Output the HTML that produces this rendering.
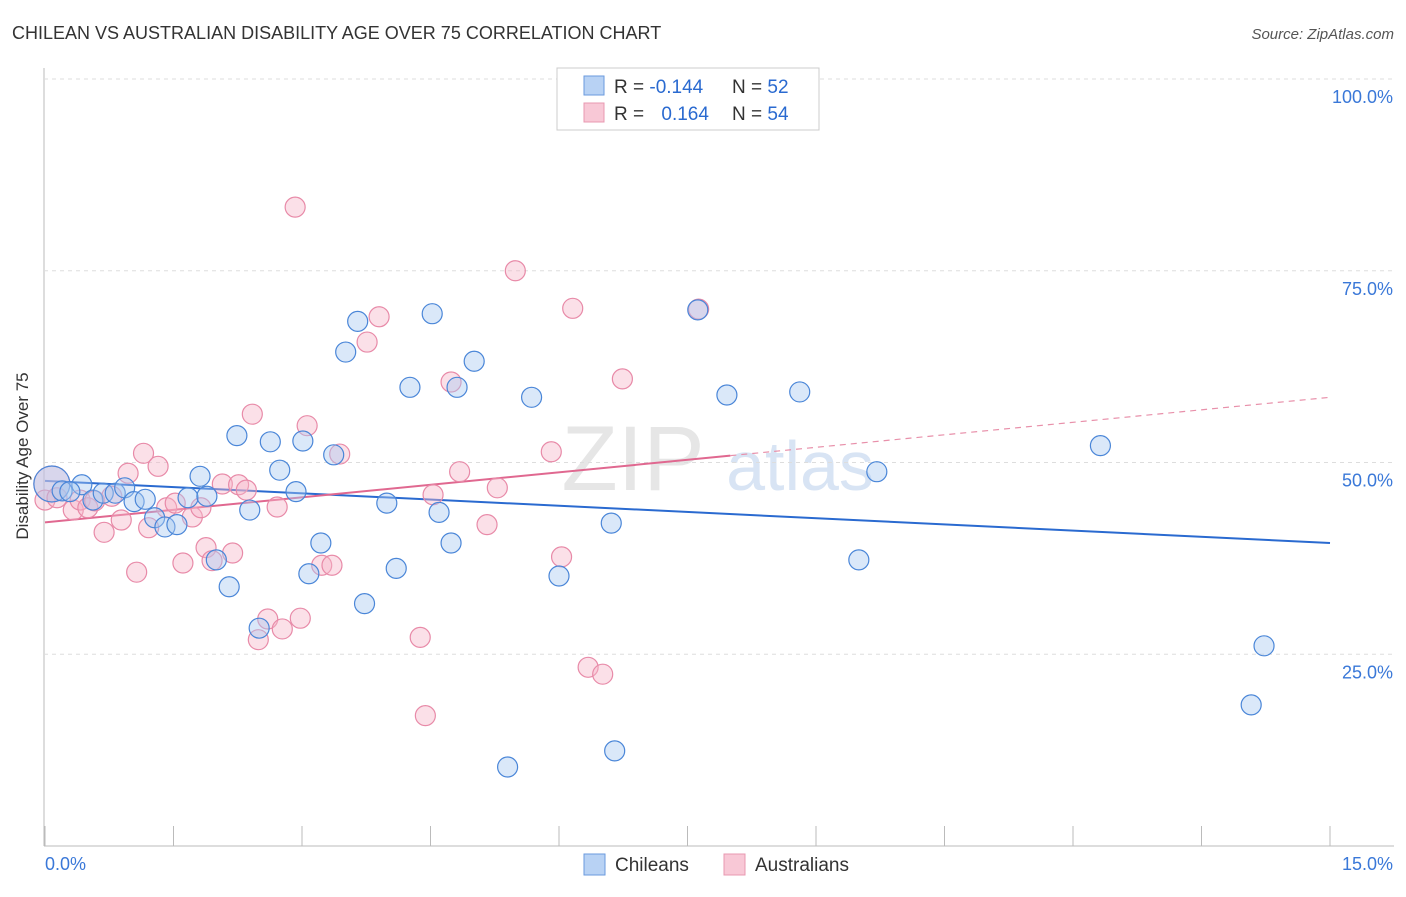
<!DOCTYPE html>
<html><head><meta charset="utf-8"><style>
body{margin:0;background:#fff;font-family:"Liberation Sans",sans-serif;}
svg text{font-family:"Liberation Sans",sans-serif;}
</style></head><body>
<svg id="c" width="1406" height="892" xmlns="http://www.w3.org/2000/svg">
<text x="12" y="39" font-size="18" fill="#333">CHILEAN VS AUSTRALIAN DISABILITY AGE OVER 75 CORRELATION CHART</text>
<text x="1394" y="39" font-size="15" fill="#555" text-anchor="end" font-style="italic">Source: ZipAtlas.com</text>
<text x="633" y="490" font-size="92" fill="#e6e6e6" font-family="Liberation Serif" text-anchor="middle">ZIP</text>
<text x="800" y="490" font-size="70" fill="#d8e4f4" text-anchor="middle">atlas</text>
<text transform="translate(28,456) rotate(-90)" font-size="17" fill="#333" text-anchor="middle">Disability Age Over 75</text>
<g id="grid"></g><g id="lines"></g><g id="pts"></g>
<g>
<rect x="557" y="68" width="262" height="62" fill="#fff" stroke="#ccc"/>
<rect x="584" y="76" width="20" height="19" fill="#b8d2f4" stroke="#6a9ade"/>
<rect x="584" y="103" width="20" height="19" fill="#f8c8d6" stroke="#e898b0"/>
<text x="614" y="93" font-size="19" fill="#333">R = <tspan fill="#2a6ad0">-0.144</tspan></text>
<text x="732" y="93" font-size="19" fill="#333">N = <tspan fill="#2a6ad0">52</tspan></text>
<text x="614" y="120" font-size="19" fill="#333">R = <tspan fill="#2a6ad0" dx="12">0.164</tspan></text>
<text x="732" y="120" font-size="19" fill="#333">N = <tspan fill="#2a6ad0">54</tspan></text>
</g>
<g>
<rect x="584" y="854" width="21" height="21" fill="#b8d2f4" stroke="#6a9ade"/>
<text x="615" y="871" font-size="19" fill="#333">Chileans</text>
<rect x="724" y="854" width="21" height="21" fill="#f8c8d6" stroke="#e898b0"/>
<text x="755" y="871" font-size="19" fill="#333">Australians</text>
</g>
</svg>
<script>
const chileX=[0.08,0.2,0.43,0.29,0.56,0.68,0.82,0.93,1.04,1.17,1.28,1.4,1.54,1.67,1.81,1.89,2.0,2.15,2.24,2.39,2.5,2.63,2.74,2.93,3.01,3.08,3.22,3.37,3.51,3.65,3.73,3.99,4.1,4.26,4.52,4.6,4.74,4.81,5.01,5.4,5.68,6.0,6.61,6.65,7.62,7.96,8.81,9.5,9.71,12.32,14.08,14.23];
const chileY=[47.2,46.3,47.1,46.2,45.1,46.0,46.0,46.7,44.9,45.2,42.8,41.6,41.9,45.4,48.2,45.6,37.3,33.8,53.5,43.8,28.4,52.7,49.0,46.2,52.8,35.5,39.5,51.0,64.4,68.4,31.6,44.7,36.2,59.8,69.4,43.5,39.5,59.8,63.2,10.3,58.5,35.2,42.1,12.4,69.9,58.8,59.2,37.3,48.8,52.2,18.4,26.1];
const ausX=[0.08,0.0,0.14,0.33,0.41,0.5,0.58,0.69,0.78,0.89,0.97,1.07,1.15,1.21,1.32,1.42,1.52,1.61,1.72,1.82,1.88,1.95,2.07,2.19,2.26,2.35,2.42,2.49,2.6,2.71,2.77,2.92,2.98,3.06,3.23,3.35,3.44,3.76,3.9,4.38,4.44,4.53,4.74,4.84,5.16,5.28,5.49,5.91,6.03,6.16,6.34,6.51,6.74,7.63];
const ausY=[47.2,45.1,45.4,43.8,45.1,44.1,45.0,40.9,45.6,42.5,48.6,35.7,51.2,41.5,49.5,44.1,44.7,36.9,42.9,44.1,38.9,37.2,47.2,38.2,47.1,46.4,56.3,26.9,29.6,44.2,28.3,83.3,29.7,54.8,36.6,36.6,51.1,65.7,69.0,27.2,17.0,45.8,60.5,48.8,41.9,46.7,75.0,51.4,37.7,70.1,23.3,22.4,60.9,70.0];
const chileTrend=[47.6,39.5];
const ausTrend=[42.2,58.5];
const ausSolidEnd=8.0;
const yTicks=[25,50,75,100];
const xTickLabels=["0.0%","15.0%"];
const NS="http://www.w3.org/2000/svg";
const X=v=>45+v/15*1285, Y=v=>846-v/100*767;
function mk(p,t,a){const e=document.createElementNS(NS,t);for(const k in a)e.setAttribute(k,a[k]);document.getElementById(p).appendChild(e);return e;}
let e;
e=mk('grid','line',{x1:44,y1:68,x2:44,y2:846,stroke:'#bbb'});


e=mk('grid','line',{x1:44,y1:846,x2:1394,y2:846,stroke:'#bbb'});


for(const t of yTicks){
 e=mk('grid','line',{x1:44,x2:1394,y1:Y(t),y2:Y(t),stroke:'#ddd','stroke-dasharray':'4,4'});
 
 
 e=mk('grid','text',{x:1393,y:Y(t)+24,'font-size':18,fill:'#3a78d8','text-anchor':'end'});
 e.textContent=t.toFixed(1)+'%';
 
 
}
for(let i=0;i<=10;i++){
 e=mk('grid','line',{x1:X(i*1.5),x2:X(i*1.5),y1:826,y2:846,stroke:'#bbb'});
 
 
}
e=mk('grid','text',{x:45,y:870,'font-size':18,fill:'#3a78d8'});e.textContent=xTickLabels[0];


e=mk('grid','text',{x:1393,y:870,'font-size':18,fill:'#3a78d8','text-anchor':'end'});e.textContent=xTickLabels[1];


function pts(xs,ys,fill,stroke,name){
 xs.forEach((x,i)=>{
  const r=i===0?18:10;
  e=mk('pts','circle',{cx:X(x),cy:Y(ys[i]),r:r,fill:fill,'fill-opacity':0.42,stroke:stroke,'stroke-width':1.2});
  
  
 });
}
pts(ausX,ausY,'#f5b4c8','#e88aa8','australians');
pts(chileX,chileY,'#a8c8f0','#4a86d8','chileans');
e=mk('lines','line',{x1:X(0),y1:Y(chileTrend[0]),x2:X(15),y2:Y(chileTrend[1]),stroke:'#2a6ad0','stroke-width':2});


const ay=x=>ausTrend[0]+(ausTrend[1]-ausTrend[0])*x/15;
e=mk('lines','line',{x1:X(0),y1:Y(ay(0)),x2:X(ausSolidEnd),y2:Y(ay(ausSolidEnd)),stroke:'#e06890','stroke-width':2});


e=mk('lines','line',{x1:X(ausSolidEnd),y1:Y(ay(ausSolidEnd)),x2:X(15),y2:Y(ay(15)),stroke:'#e890aa','stroke-width':1.2,'stroke-dasharray':'6,5'});


</script>
</body></html>
